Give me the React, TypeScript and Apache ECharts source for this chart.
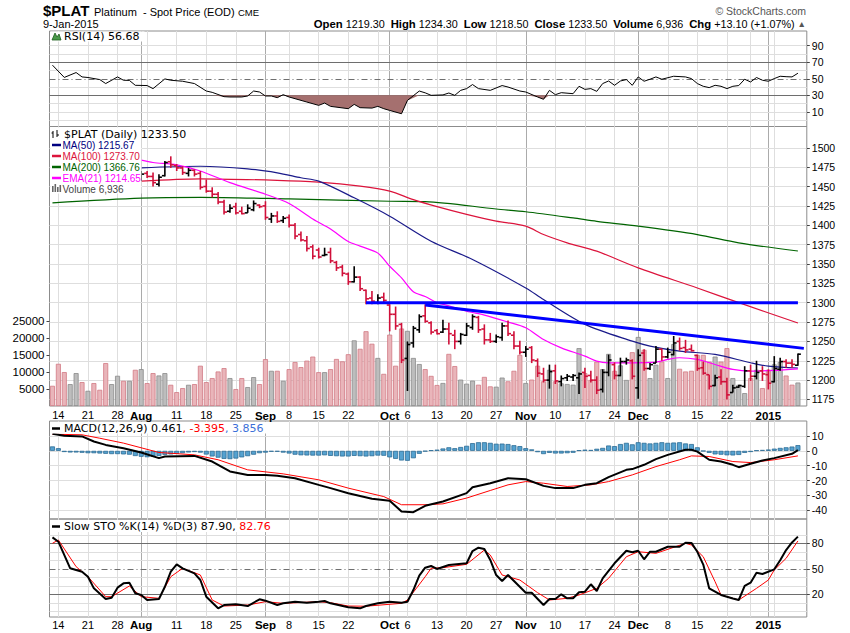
import React, { useEffect, useRef } from 'react';
import * as echarts from 'echarts';

// ---------- categories (trading days 11-Jul-2014 .. 9-Jan-2015) ----------
const monthDays: [string, number[]][] = [
  ['Jul', [11, 14, 15, 16, 17, 18, 21, 22, 23, 24, 25, 28, 29, 30, 31]],
  ['Aug', [1, 4, 5, 6, 7, 8, 11, 12, 13, 14, 15, 18, 19, 20, 21, 22, 25, 26, 27, 28, 29]],
  ['Sep', [2, 3, 4, 5, 8, 9, 10, 11, 12, 15, 16, 17, 18, 19, 22, 23, 24, 25, 26, 29, 30]],
  ['Oct', [1, 2, 3, 6, 7, 8, 9, 10, 13, 14, 15, 16, 17, 20, 21, 22, 23, 24, 27, 28, 29, 30, 31]],
  ['Nov', [3, 4, 5, 6, 7, 10, 11, 12, 13, 14, 17, 18, 19, 20, 21, 24, 25, 26, 28]],
  ['Dec', [1, 2, 3, 4, 5, 8, 9, 10, 11, 12, 15, 16, 17, 18, 19, 22, 23, 24, 26, 29, 30, 31]],
  ['Jan', [2, 5, 6, 7, 8, 9]],
];
const dates: string[] = monthDays.flatMap(([m, ds]) => ds.map((d) => `${d}-${m}`));
const categories: string[] = [...dates, ''];

// x-axis tick labels
const tickIdx = [1, 6, 11, 15, 21, 26, 31, 36, 40, 45, 50, 57, 60, 65, 70, 75, 80, 85, 90, 95, 99, 104, 109, 114, 121];
const tickTxt = ['14', '21', '28', 'Aug', '11', '18', '25', 'Sep', '8', '15', '22', 'Oct', '6', '13', '20', '27', 'Nov', '10', '17', '24', 'Dec', '8', '15', '22', '2015'];
const monthIdx = [15, 36, 57, 80, 99, 121];
const weekIdx = [1, 6, 11, 16, 21, 26, 31, 40, 45, 50, 55, 60, 65, 70, 75, 85, 90, 95, 104, 109, 114, 118, 122];

// up (u) / down (d) day
const dirGroups = 'ddduu duddd uudud udduu dddud ddddd udduu ddudu ddddd duddd duddd udddd uuudd duddu uuddd uuddd udddu duuuu ddduu duudu duudu udddd ddudd uuudu dduud du';
const dirs: string[] = dirGroups.replace(/ /g, '').split('');

// OHLC from 1-Aug (index 15); earlier bars are hidden behind the legend box
const ohlcStart = 15;
const ohlc: number[][] = [
  [1460, 1470, 1457, 1466], [1467, 1470, 1461, 1463], [1463, 1468, 1450, 1455], [1453, 1466, 1450, 1462],
  [1464, 1483, 1463, 1481], [1482, 1489, 1474, 1478], [1477, 1479, 1470, 1474], [1474, 1476, 1465, 1468],
  [1467, 1474, 1463, 1471], [1471, 1472, 1463, 1466], [1467, 1470, 1446, 1449], [1450, 1459, 1442, 1444],
  [1444, 1449, 1436, 1440], [1440, 1443, 1427, 1430], [1430, 1433, 1414, 1417], [1418, 1427, 1416, 1422],
  [1424, 1429, 1414, 1416], [1418, 1424, 1414, 1415], [1416, 1427, 1416, 1422], [1420, 1432, 1418, 1428],
  [1426, 1427, 1422, 1424], [1425, 1431, 1407, 1410], [1408, 1416, 1403, 1412], [1412, 1418, 1403, 1405],
  [1406, 1412, 1403, 1409], [1410, 1414, 1397, 1400], [1400, 1403, 1382, 1386], [1388, 1392, 1379, 1381],
  [1380, 1386, 1366, 1370], [1372, 1375, 1356, 1360], [1368, 1371, 1357, 1359], [1361, 1371, 1360, 1362],
  [1365, 1371, 1351, 1354], [1352, 1354, 1341, 1345], [1346, 1349, 1334, 1338], [1337, 1339, 1323, 1327],
  [1327, 1347, 1326, 1333], [1333, 1334, 1315, 1318], [1316, 1317, 1298, 1305], [1306, 1315, 1298, 1302],
  [1300, 1311, 1298, 1306], [1307, 1313, 1300, 1303], [1297, 1298, 1263, 1285], [1285, 1295, 1265, 1270],
  [1272, 1274, 1222, 1226], [1228, 1250, 1186, 1246], [1248, 1270, 1242, 1267], [1265, 1285, 1261, 1282],
  [1283, 1298, 1274, 1276], [1274, 1276, 1259, 1262], [1264, 1266, 1259, 1260], [1262, 1278, 1261, 1266],
  [1266, 1274, 1246, 1260], [1258, 1265, 1240, 1250], [1250, 1261, 1246, 1259], [1258, 1274, 1257, 1270],
  [1268, 1285, 1265, 1282], [1281, 1283, 1261, 1265], [1266, 1272, 1246, 1252], [1252, 1261, 1248, 1250],
  [1250, 1259, 1248, 1256], [1255, 1274, 1251, 1270], [1270, 1277, 1257, 1260], [1258, 1263, 1240, 1244],
  [1244, 1251, 1233, 1236], [1236, 1244, 1230, 1240], [1242, 1244, 1222, 1226], [1225, 1228, 1204, 1209],
  [1208, 1216, 1197, 1200], [1200, 1220, 1189, 1211], [1212, 1220, 1195, 1199], [1198, 1206, 1192, 1202],
  [1203, 1208, 1199, 1205], [1204, 1208, 1199, 1206], [1203, 1210, 1182, 1208], [1210, 1216, 1190, 1205],
  [1206, 1212, 1197, 1200], [1200, 1205, 1182, 1187], [1188, 1214, 1184, 1210], [1210, 1233, 1205, 1226],
  [1220, 1223, 1201, 1206], [1206, 1229, 1205, 1224], [1224, 1229, 1220, 1226], [1225, 1227, 1201, 1205],
  [1190, 1240, 1176, 1232], [1235, 1240, 1212, 1215], [1215, 1222, 1213, 1220], [1222, 1244, 1222, 1240],
  [1240, 1241, 1225, 1230], [1230, 1242, 1228, 1236], [1233, 1257, 1232, 1248], [1250, 1255, 1238, 1241],
  [1242, 1252, 1235, 1239], [1240, 1246, 1237, 1238], [1232, 1233, 1212, 1215], [1216, 1224, 1207, 1209],
  [1207, 1207, 1188, 1192], [1193, 1207, 1192, 1203], [1204, 1214, 1194, 1198], [1198, 1203, 1175, 1181],
  [1184, 1194, 1184, 1190], [1191, 1194, 1190, 1193], [1192, 1218, 1190, 1212], [1212, 1220, 1199, 1205],
  [1205, 1225, 1201, 1210], [1212, 1218, 1199, 1208], [1207, 1214, 1188, 1196], [1198, 1231, 1197, 1215],
  [1214, 1229, 1212, 1224], [1224, 1227, 1216, 1222], [1222, 1227, 1216, 1220.4], [1219.3, 1234.3, 1218.5, 1233.5],
];

const volume: number[] = [
  5970, 12470, 10020, 6470, 9720, 7060, 4490, 6770, 4790, 12680,
  6470, 8930, 7450, 7450, 10700, 10900, 6770, 9720, 9020, 9720,
  6270, 4100, 5290, 6270, 6470, 11900, 7060, 8250, 10200, 11200,
  8250, 5000, 8250, 5590, 8540, 6470, 13860, 10400, 10400, 7450,
  10900, 13000, 11500, 13400, 14600, 10000, 10000, 10900, 13900, 13200,
  15300, 19400, 16900, 22100, 18400, 14200, 9500, 21100, 11900, 22900,
  22200, 14200, 12400, 10900, 8900, 6200, 6800, 15400, 11800, 7800,
  6600, 7500, 6300, 8600, 5800, 5700, 8400, 7300, 10400, 15100,
  6800, 7800, 11900, 7300, 10700, 7300, 6700, 6500, 6300, 17100,
  9700, 7700, 13100, 10900, 15400, 10400, 12000, 7700, 15900, 20400,
  16600, 8250, 12200, 13150, 8250, 18300, 11000, 10200, 10400, 15100,
  15100, 13100, 14600, 13100, 17100, 8250, 6270, 3810, 8250, 10700,
  5290, 10700, 12300, 13000, 9000, 6300, 6936,
];

// moving averages, read at points along each line [index, price]
const ma50: number[][] = [[15, 1474.2], [25, 1476.2], [33, 1472.9], [38, 1467.7], [42, 1461.3], [45, 1456.9], [51, 1435.4], [57, 1411.7], [64, 1379.4], [71, 1355.8], [80, 1319], [83, 1304], [90, 1272], [98, 1250.3], [101, 1244], [106, 1237.4], [112, 1233.2], [118, 1222.4], [121, 1218], [126, 1215.67]];
const ma100: number[][] = [[15, 1457], [25, 1460], [38, 1458], [45, 1455.6], [52, 1450.4], [57, 1444], [61, 1433], [65, 1424], [70, 1414], [75, 1405.3], [80, 1398.8], [83, 1388], [87, 1377.3], [92, 1366.5], [99, 1345], [109, 1319], [116, 1300], [126, 1273.7]];
const ma200: number[][] = [[0, 1429], [15, 1435], [25, 1436], [40, 1434], [57, 1431], [63, 1430.5], [75, 1421], [80, 1417.4], [88, 1409.4], [92, 1405], [99, 1398.8], [109, 1388], [116, 1377.3], [126, 1366.76]];
const ema21: number[][] = [[15, 1484], [17, 1481], [21, 1478], [25, 1470], [30, 1455], [36, 1440], [40, 1428], [44, 1408], [47, 1395], [50, 1379], [52, 1373], [55, 1364], [57, 1347], [59, 1332], [61, 1314], [63, 1308], [65, 1300], [67, 1296], [70, 1289], [73, 1284], [77, 1275], [80, 1267.6], [83, 1252.5], [86, 1241.7], [90, 1231], [92, 1224.5], [94, 1222.4], [98, 1222.4], [102, 1223.2], [104, 1226.7], [106, 1228.9], [109, 1226.7], [112, 1220.2], [115, 1213.8], [118, 1211.6], [122, 1212.5], [126, 1214.65]];

// drawn trend lines
const supportLine: number[][] = [[53, 1300], [126, 1300]];
const downTrend: number[][] = [[63, 1297], [127, 1241]];

// RSI(14)
const rsi: number[][] = [[0, 66.4], [2, 51.6], [4, 57.5], [5, 52.2], [6, 51.5], [8, 49], [9, 44.2], [11, 52.2], [12, 48.2], [13, 48], [14, 42.1], [16, 41.8], [17, 38.1], [19, 49.8], [20, 48.2], [22, 47], [24, 44.2], [26, 35.2], [27, 33.6], [29, 28.4], [30, 28], [32, 28], [33, 29.2], [34, 35.2], [35, 34], [36, 29.2], [37, 29.2], [38, 27.2], [39, 30.8], [40, 28], [43, 21.9], [45, 17.9], [46, 20.7], [47, 16.7], [50, 13.9], [51, 19.1], [52, 15.1], [54, 14.6], [55, 16.7], [56, 13.9], [57, 11.8], [59, 7.8], [60, 23.9], [62, 35.2], [63, 33], [64, 30], [66, 30.5], [67, 32.8], [68, 30], [69, 36], [70, 38.1], [71, 43], [72, 38.1], [74, 36], [76, 41.8], [77, 40], [79, 35.2], [80, 34], [82, 28], [83, 25.2], [84, 36], [85, 30.8], [86, 33.2], [88, 32], [89, 40.9], [90, 37.2], [91, 38.1], [92, 34.8], [93, 44.2], [94, 47.3], [95, 42.1], [96, 47.3], [97, 49], [98, 42.1], [99, 52.2], [100, 47], [101, 49.4], [102, 52.2], [103, 49.4], [105, 53], [107, 52.2], [108, 50.2], [109, 44.2], [110, 40.9], [111, 39.3], [112, 42.1], [113, 40.9], [114, 38.1], [115, 40.9], [116, 41.8], [117, 49.4], [118, 46.1], [119, 51.5], [120, 48.2], [121, 47], [122, 50.2], [123, 53], [124, 52.5], [125, 52.2], [126, 56.68]];

// MACD(12,26,9)
const macd: number[][] = [[0, 11.5], [2, 10.1], [5, 9.7], [7, 6.3], [9, 4], [12, 1.8], [15, -1.1], [18, -4.9], [19, -3.8], [24, -3.4], [27, -7.2], [30, -13.9], [33, -16.2], [36, -16.2], [38, -16.8], [41, -18.4], [45, -22.9], [47, -25.1], [50, -28.5], [54, -32.3], [57, -33.6], [59, -40.8], [61, -41.3], [63, -37], [66, -34.1], [70, -28.5], [71, -24.5], [74, -21.8], [77, -18.4], [80, -19.1], [83, -23.6], [85, -25.1], [88, -25.1], [90, -22.9], [92, -21.8], [94, -17.7], [97, -12.8], [98, -12.3], [100, -9.4], [102, -5.6], [104, -2.7], [107, 0.7], [108, 0.7], [109, -0.5], [111, -6], [113, -7.2], [115, -9.4], [116, -11], [118, -8.7], [120, -6.5], [122, -4.9], [125, -2], [126, 0.461]];
const macdSignal: number[][] = [[0, 11.2], [5, 10.8], [8, 8.5], [12, 5.2], [18, -1.1], [24, -2.7], [28, -6], [33, -12.8], [39, -15.5], [45, -19.5], [50, -25.1], [56, -30.8], [59, -36.3], [63, -36.3], [66, -35.7], [70, -31.8], [74, -26.7], [77, -22.9], [80, -20.7], [83, -21.8], [87, -24], [91, -22.9], [94, -20.7], [98, -16.2], [102, -10.6], [106, -6], [108, -3.4], [111, -3.8], [115, -7.2], [118, -7.9], [122, -6], [126, -3.395]];
const macdHist: number[] = [
  3.0, 1.8, -0.8, -1.1, -1.1, -1.3, -1.6, -1.6, -1.8, -2.0,
  -2.2, -2.2, -2.4, -2.6, -3.5, -4.0, -4.3, -4.0, -3.5, -2.7,
  -2.4, -2.0, -1.6, -1.1, -0.8, -1.2, -2.5, -3.8, -4.6, -5.4,
  -5.6, -5.2, -4.4, -3.6, -2.6, -1.6, -1.2, -0.6, -0.6, -1.2,
  -1.8, -2.6, -3.0, -3.1, -3.2, -3.2, -3.0, -3.4, -3.6, -3.8,
  -3.8, -3.4, -3.6, -3.8, -3.6, -3.2, -3.3, -4.4, -5.4, -6.5,
  -6.7, -5.0, -2.0, -0.4, 0.4, 0.8, 1.6, 2.4, 1.8, 2.6,
  3.4, 5.2, 5.8, 5.8, 5.4, 4.8, 4.9, 4.6, 3.8, 3.2,
  1.8, 1.0, -0.9, -2.2, -1.4, -1.8, -1.8, -1.6, -1.3, 0.4,
  0.8, 0.6, 1.4, 2.0, 3.6, 3.2, 4.6, 5.4, 4.4, 5.8,
  5.4, 5.0, 5.4, 5.8, 5.4, 5.6, 5.8, 5.0, 4.6, 2.4,
  -0.2, -1.4, -2.4, -2.6, -3.0, -3.1, -2.8, -1.4, -0.8, 0.3,
  0.6, 0.9, 1.5, 2.0, 2.4, 2.9, 3.856,
];

// Slow stochastics %K(14) %D(3)
const stoK: number[][] = [[0, 87], [1, 81.9], [3, 50.6], [5, 46.6], [6, 40.7], [7, 27], [9, 14.5], [10, 16], [11, 27.8], [12, 32.9], [13, 33.6], [14, 21.2], [15, 19.2], [16, 13.3], [18, 14.5], [19, 28.9], [20, 46.6], [21, 55.3], [22, 50.6], [24, 44.7], [25, 36.8], [26, 17.2], [28, 3.5], [29, 7.4], [31, 8.2], [33, 6.2], [35, 14.1], [36, 12.5], [38, 7.4], [39, 9.4], [41, 11.3], [43, 10.1], [45, 11.3], [46, 12.1], [47, 9.4], [50, 4.7], [52, 3.5], [53, 6.2], [55, 9.4], [57, 11.3], [59, 10.1], [60, 11.3], [61, 25], [62, 42], [63, 51.3], [64, 53.3], [65, 49.8], [67, 54.5], [70, 56.5], [71, 70.9], [72, 74.8], [73, 73.3], [74, 60.4], [75, 42.7], [76, 35.6], [77, 42.7], [80, 21.9], [81, 21.9], [83, 7.4], [84, 14.5], [85, 14.5], [86, 20], [87, 15.3], [88, 15.3], [89, 22.4], [90, 23.1], [91, 31.8], [92, 23.9], [93, 38.8], [95, 56.5], [97, 71.3], [98, 69.4], [99, 71.3], [100, 61.2], [101, 70.1], [102, 70.1], [104, 76], [106, 76], [107, 80.7], [108, 80.5], [109, 70], [110, 55], [111, 27], [113, 19.2], [115, 15], [116, 13.3], [117, 29.8], [118, 33.6], [119, 45.4], [120, 43.9], [122, 49.4], [123, 60], [124, 72], [125, 81], [126, 87.9]];
const stoD: number[][] = [[0, 80], [1, 83.9], [4, 52.5], [6, 40.7], [9, 17.2], [10, 17.2], [13, 29.8], [15, 17.2], [18, 15.3], [20, 40.7], [22, 50.6], [25, 42.7], [27, 13.3], [29, 6.2], [33, 7.4], [36, 11.3], [39, 9.4], [45, 11.3], [47, 10.1], [50, 6.2], [53, 6], [59, 9.4], [60, 13.3], [63, 40.7], [64, 50.6], [66, 51.3], [70, 55.3], [73, 72.1], [74, 66.2], [76, 42.7], [79, 36.8], [82, 21.9], [84, 13.3], [87, 15.3], [89, 19.2], [92, 27], [94, 38.8], [97, 64.2], [99, 70.1], [102, 68.2], [107, 80], [108, 78], [110, 64.2], [112, 34.8], [113, 19.2], [116, 13.3], [119, 27], [121, 36.8], [122, 48.6], [124, 62.3], [126, 82.76]];

// axis tick labels
const priceTicks = [1175, 1200, 1225, 1250, 1275, 1300, 1325, 1350, 1375, 1400, 1425, 1450, 1475, 1500];
const volTicks = [5000, 10000, 15000, 20000, 25000];
const rsiTicks = [10, 30, 50, 70, 90];
const rsiGrid = [0, 10, 20, 40, 60, 80, 90];
const macdTicks = [10, 0, -10, -20, -30, -40];
const stoTicks = [20, 50, 80];
const stoGrid = [0, 10, 30, 40, 60, 70, 90];

// ---------- styling ----------
const RED = '#d0103a';
const FONT = "'Liberation Sans', Arial, sans-serif";
const VFONT = "'DejaVu Sans', Verdana, sans-serif";
const GL = '#dedede';
const GM = '#ababab';
const REF = '#6e6e6e';
const L = 49.5;
const W = 757.3;

function gridLineSeries(gi: number, yi: number, hVals: number[], extra: any[] = []) {
  const data: any[] = [];
  weekIdx.forEach((i) => data.push({ xAxis: i, lineStyle: { color: GL, width: 1, type: 'solid' } }));
  monthIdx.forEach((i) => data.push({ xAxis: i, lineStyle: { color: GM, width: 1, type: 'solid' } }));
  hVals.forEach((v) => data.push({ yAxis: v, lineStyle: { color: GL, width: 1, type: 'solid' } }));
  extra.forEach((e) => data.push(e));
  return {
    type: 'line',
    xAxisIndex: gi,
    yAxisIndex: yi,
    data: [],
    silent: true,
    z: 0,
    markLine: {
      silent: true,
      symbol: ['none', 'none'],
      label: { show: false },
      emphasis: { disabled: true },
      animation: false,
      z: 0,
      data,
    },
  };
}

function xAxisFor(gi: number, showLabels: boolean, margin: number) {
  const tickMap = new Map<number, string>();
  tickIdx.forEach((i, k) => tickMap.set(i, tickTxt[k]));
  return {
    type: 'category',
    gridIndex: gi,
    data: categories,
    boundaryGap: true,
    axisLine: { show: false },
    axisTick: { show: false },
    splitLine: { show: false },
    axisLabel: {
      show: showLabels,
      interval: (index: number) => tickMap.has(index),
      formatter: (_v: string, index: number) => {
        const t = tickMap.get(index) || '';
        return monthIdx.includes(index) ? `{m|${t}}` : t;
      },
      margin,
      fontSize: 11,
      fontFamily: FONT,
      color: '#000',
      rich: { m: { fontWeight: 'bold', fontSize: 11.5, fontFamily: FONT, color: '#000' } },
    },
  };
}

function yAxisFor(gi: number, pos: 'left' | 'right', min: number, max: number, ticks: number[], fs: number) {
  return {
    type: 'value',
    gridIndex: gi,
    position: pos,
    min,
    max,
    axisLine: { show: false },
    splitLine: { show: false },
    axisTick: { show: true, length: 3, customValues: ticks, lineStyle: { color: '#444' } },
    axisLabel: {
      show: true,
      customValues: ticks,
      formatter: (v: number) => String(v),
      fontSize: fs,
      fontFamily: FONT,
      color: '#000',
      margin: 5,
    },
  };
}

function lineS(name: string, data: number[][], xi: number, yi: number, color: string, width: number, z: number, smooth: any = false) {
  return {
    name,
    type: 'line',
    xAxisIndex: xi,
    yAxisIndex: yi,
    data,
    smooth,
    showSymbol: false,
    symbol: 'none',
    z,
    lineStyle: { color, width },
    emphasis: { disabled: true },
  };
}

function txt(x: number, y: number, text: string, font: string, fill: string, extra: any = {}, z = 51) {
  return {
    type: 'text',
    x,
    y,
    z,
    style: { text, font, fill, verticalAlign: 'middle', textVerticalAlign: 'middle', ...extra },
  };
}

function buildOption() {
  const ohlcData = ohlc.map((r, k) => [ohlcStart + k, r[0], r[1], r[2], r[3]]);
  const volData = volume.map((v, i) => ({
    value: v,
    itemStyle: dirs[i] === 'd' ? { color: '#e9b5ba', borderColor: '#d27a84', borderWidth: 0.8 } : { color: '#bdbdbd', borderColor: '#8a8a8a', borderWidth: 0.8 },
  }));
  const rsiBase = rsi.map(([i, v]) => [i, Math.min(v, 30)]);
  const rsiBand = rsi.map(([i, v]) => [i, 30 - Math.min(v, 30)]);

  const dashDot = [6, 3, 1, 3];
  const LF = `10px ${FONT}`;

  const graphic: any[] = [
    // header
    txt(43, 10.5, '$PLAT', `bold 15px ${FONT}`, '#000'),
    txt(94, 12, 'Platinum  - Spot Price (EOD)', `11px ${FONT}`, '#000'),
    txt(238, 12.5, 'CME', `9.5px ${FONT}`, '#000'),
    txt(43, 24, '9-Jan-2015', `11px ${FONT}`, '#000'),
    txt(806, 10.5, '© StockCharts.com', `10.5px ${FONT}`, '#555', { align: 'right', textAlign: 'right' }),
    txt(806, 24, '{b|Open} 1219.30  {b|High} 1234.30  {b|Low} 1218.50  {b|Close} 1233.50  {b|Volume} 6,936  {b|Chg} +13.10 (+1.07%) {t|▲}', `10.8px ${FONT}`, '#000', {
      align: 'right', textAlign: 'right',
      rich: { b: { font: `bold 11.3px ${FONT}`, fill: '#000' }, t: { font: `8.5px ${FONT}`, fill: '#555' } },
    }),
    // RSI legend
    { type: 'rect', z: 50, shape: { x: 50.5, y: 31.5, width: 94, height: 10 }, style: { fill: '#fff' } },
    { type: 'polygon', z: 51, shape: { points: [[52, 40], [55, 33], [57, 37], [59, 34], [61, 40]] }, style: { fill: '#4a9a4a', stroke: '#1d5e1d', lineWidth: 0.8 } },
    txt(64, 36.5, 'RSI(14) 56.68', `11px ${VFONT}`, '#000'),
    // main legend box
    { type: 'rect', shape: { x: 50.5, y: 127.5, width: 91, height: 66 }, style: { fill: '#fff' }, z: 50 },
    { type: 'line', shape: { x1: 53, y1: 131, x2: 53, y2: 138 }, style: { stroke: '#000', lineWidth: 1 }, z: 51 },
    { type: 'line', shape: { x1: 51.5, y1: 133, x2: 53, y2: 133 }, style: { stroke: '#000', lineWidth: 1 }, z: 51 },
    { type: 'line', shape: { x1: 57, y1: 130, x2: 57, y2: 137 }, style: { stroke: '#000', lineWidth: 1 }, z: 51 },
    { type: 'line', shape: { x1: 57, y1: 135, x2: 59, y2: 135 }, style: { stroke: '#000', lineWidth: 1 }, z: 51 },
    txt(64, 134, '$PLAT (Daily) 1233.50', `11px ${VFONT}`, '#000'),
    { type: 'line', shape: { x1: 52, y1: 145, x2: 61, y2: 145 }, style: { stroke: '#000080', lineWidth: 2.5 }, z: 51 },
    txt(62.5, 145, 'MA(50) 1215.67', LF, '#000080'),
    { type: 'line', shape: { x1: 52, y1: 156, x2: 61, y2: 156 }, style: { stroke: '#dc143c', lineWidth: 2.5 }, z: 51 },
    txt(62.5, 156, 'MA(100) 1273.70', LF, '#dc143c'),
    { type: 'line', shape: { x1: 52, y1: 167, x2: 61, y2: 167 }, style: { stroke: '#006400', lineWidth: 2.5 }, z: 51 },
    txt(62.5, 167, 'MA(200) 1366.76', LF, '#006400'),
    { type: 'line', shape: { x1: 52, y1: 178, x2: 61, y2: 178 }, style: { stroke: '#ff00ff', lineWidth: 2.5 }, z: 51 },
    txt(62.5, 178, 'EMA(21) 1214.65', LF, '#ff00ff'),
    { type: 'rect', shape: { x: 52, y: 186, width: 1.6, height: 6 }, style: { fill: '#666' }, z: 51 },
    { type: 'rect', shape: { x: 54.5, y: 184, width: 1.6, height: 8 }, style: { fill: '#666' }, z: 51 },
    { type: 'rect', shape: { x: 57, y: 187, width: 1.6, height: 5 }, style: { fill: '#666' }, z: 51 },
    { type: 'rect', shape: { x: 59.5, y: 185, width: 1.6, height: 7 }, style: { fill: '#666' }, z: 51 },
    txt(62.5, 189, 'Volume 6,936', LF, '#444'),
    // MACD legend
    { type: 'rect', z: 50, shape: { x: 50.5, y: 422, width: 222, height: 11.5 }, style: { fill: '#fff' } },
    { type: 'line', z: 51, shape: { x1: 52, y1: 428.5, x2: 60, y2: 428.5 }, style: { stroke: '#000', lineWidth: 2.5 } },
    txt(64, 428.5, 'MACD(12,26,9) 0.461{r|, -3.395}{b|, 3.856}', `11px ${VFONT}`, '#000', {
      rich: { r: { font: `11px ${VFONT}`, fill: '#ff0000' }, b: { font: `11px ${VFONT}`, fill: '#3b6fd8' } },
    }),
    // STO legend
    { type: 'rect', z: 50, shape: { x: 50.5, y: 520, width: 228, height: 12 }, style: { fill: '#fff' } },
    { type: 'line', z: 51, shape: { x1: 52, y1: 526.5, x2: 60, y2: 526.5 }, style: { stroke: '#000', lineWidth: 2.5 } },
    txt(64, 526.5, 'Slow STO %K(14) %D(3) 87.90,{r| 82.76}', `11px ${VFONT}`, '#000', {
      rich: { r: { font: `11px ${VFONT}`, fill: '#ff0000' } },
    }),
  ];

  return {
    animation: false,
    backgroundColor: '#fff',
    grid: [
      { left: L, width: W, top: 31, height: 95.5, show: true, borderColor: '#8c8c8c', borderWidth: 1, backgroundColor: 'transparent' },
      { left: L, width: W, top: 126.5, height: 279.5, show: true, borderColor: '#8c8c8c', borderWidth: 1, backgroundColor: 'transparent' },
      { left: L, width: W, top: 421, height: 98, show: true, borderColor: '#8c8c8c', borderWidth: 1, backgroundColor: 'transparent' },
      { left: L, width: W, top: 519, height: 98, show: true, borderColor: '#8c8c8c', borderWidth: 1, backgroundColor: 'transparent' },
    ],
    xAxis: [xAxisFor(0, false, 3), xAxisFor(1, true, 3.5), xAxisFor(2, false, 3), xAxisFor(3, true, 2)],
    yAxis: [
      yAxisFor(0, 'right', -7.6, 107.6, rsiTicks, 10.5),
      yAxisFor(1, 'right', 1166.6, 1527.5, priceTicks, 10.5),
      yAxisFor(1, 'left', 0, 82600, volTicks, 11.5),
      yAxisFor(2, 'right', -45.9, 20.1, macdTicks, 10.5),
      yAxisFor(3, 'right', -6.7, 108.6, stoTicks, 10.5),
    ],
    graphic,
    series: [
      // grid lines
      gridLineSeries(0, 0, rsiGrid, [
        { yAxis: 70, lineStyle: { color: REF, width: 1, type: 'solid' } },
        { yAxis: 30, lineStyle: { color: REF, width: 1, type: 'solid' } },
        { yAxis: 50, lineStyle: { color: REF, width: 1, type: dashDot } },
      ]),
      gridLineSeries(1, 1, priceTicks),
      gridLineSeries(2, 3, macdTicks),
      gridLineSeries(3, 4, stoGrid, [
        { yAxis: 80, lineStyle: { color: REF, width: 1, type: 'solid' } },
        { yAxis: 20, lineStyle: { color: REF, width: 1, type: 'solid' } },
        { yAxis: 50, lineStyle: { color: REF, width: 1, type: dashDot } },
      ]),
      // RSI
      { type: 'line', xAxisIndex: 0, yAxisIndex: 0, data: rsiBase, stack: 'rsiFill', symbol: 'none', showSymbol: false, lineStyle: { opacity: 0, width: 0 }, z: 2, silent: true },
      { type: 'line', xAxisIndex: 0, yAxisIndex: 0, data: rsiBand, stack: 'rsiFill', symbol: 'none', showSymbol: false, lineStyle: { opacity: 0, width: 0 }, areaStyle: { color: '#a5706f', opacity: 1 }, z: 2, silent: true },
      lineS('RSI', rsi, 0, 0, '#000', 1, 3),
      // volume
      { name: 'Volume', type: 'bar', xAxisIndex: 1, yAxisIndex: 2, data: volData, barWidth: 5, z: 1, silent: true },
      // moving averages
      lineS('MA200', ma200, 1, 1, '#006400', 1.2, 2, 0.3),
      lineS('MA100', ma100, 1, 1, '#dc143c', 1.2, 2, 0.3),
      lineS('MA50', ma50, 1, 1, '#1a1a8a', 1.2, 2, 0.3),
      lineS('EMA21', ema21, 1, 1, '#ff00ff', 1.2, 2, 0.3),
      // price bars
      {
        name: '$PLAT',
        type: 'custom',
        xAxisIndex: 1,
        yAxisIndex: 1,
        data: ohlcData,
        encode: { x: 0, y: [1, 2, 3, 4] },
        z: 3,
        silent: true,
        renderItem: (_params: any, api: any) => {
          const i = api.value(0);
          const pO = api.coord([i, api.value(1)]);
          const pH = api.coord([i, api.value(2)]);
          const pL = api.coord([i, api.value(3)]);
          const pC = api.coord([i, api.value(4)]);
          const t = api.size([1, 0])[0] * 0.5;
          const color = dirs[i] === 'd' ? RED : '#000';
          const st = { stroke: color, lineWidth: 1.6 };
          return {
            type: 'group',
            children: [
              { type: 'line', shape: { x1: pH[0], y1: pH[1], x2: pL[0], y2: pL[1] }, style: st },
              { type: 'line', shape: { x1: pO[0] - t, y1: pO[1], x2: pO[0], y2: pO[1] }, style: st },
              { type: 'line', shape: { x1: pC[0], y1: pC[1], x2: pC[0] + t, y2: pC[1] }, style: st },
            ],
          };
        },
      },
      // trend lines
      lineS('Support', supportLine, 1, 1, '#0000ff', 3, 4),
      lineS('Downtrend', downTrend, 1, 1, '#0000ff', 3, 4),
      // MACD
      { name: 'Hist', type: 'bar', xAxisIndex: 2, yAxisIndex: 3, data: macdHist, barWidth: 5, z: 1, silent: true, itemStyle: { color: '#55a2d0', borderColor: '#2c6c96', borderWidth: 0.8 } },
      lineS('Signal', macdSignal, 2, 3, '#ff0000', 1, 2),
      lineS('MACD', macd, 2, 3, '#000', 2, 3),
      // STO
      lineS('%D', stoD, 3, 4, '#ff0000', 1, 2),
      lineS('%K', stoK, 3, 4, '#000', 2, 3),
    ],
  };
}

export default function App() {
  const ref = useRef<HTMLDivElement>(null);
  useEffect(() => {
    if (!ref.current) return;
    const chart = echarts.init(ref.current, null, { renderer: 'svg' });
    chart.setOption(buildOption() as any);
    return () => chart.dispose();
  }, []);
  return (
    <div
      ref={ref}
      style={{ position: 'fixed', left: 0, top: 0, width: 850, height: 633, background: '#fff' }}
    />
  );
}
